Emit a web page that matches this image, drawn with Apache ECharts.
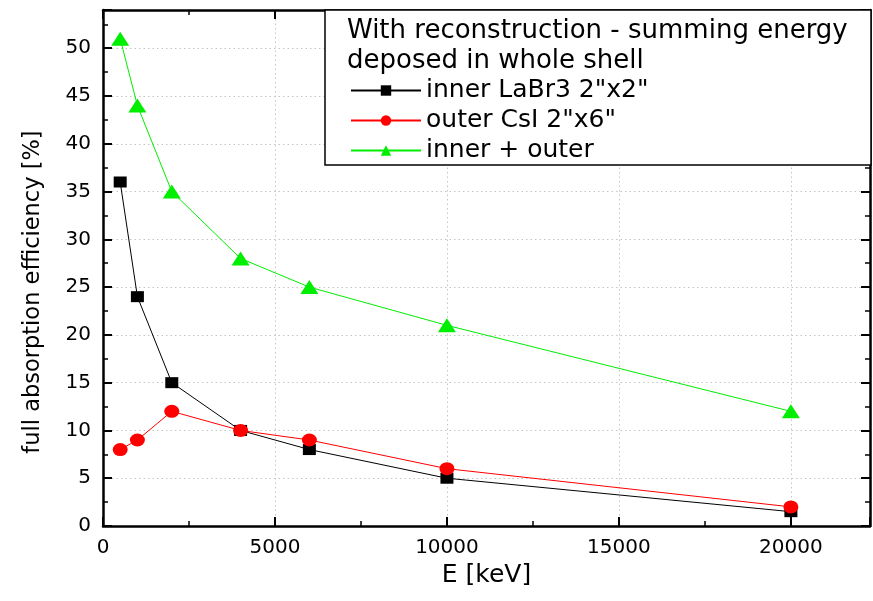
<!DOCTYPE html>
<html>
<head>
<meta charset="utf-8">
<script src="https://cdn.jsdelivr.net/npm/echarts@6/dist/echarts.min.js"></script>
<style>
  html, body { margin: 0; padding: 0; background: #fff; }
  #chart { width: 873px; height: 601px; }
</style>
</head>
<body>
<div id="chart"></div>
<script>
// energies in keV
const energies = [500, 1000, 2000, 4000, 6000, 10000, 20000]
// full absorption efficiency [%]
const innerLaBr3 = [36, 24, 15, 10, 8, 5, 1.5]
const outerCsI = [8, 9, 12, 10, 9, 6, 2]
const innerPlusOuter = [51, 44, 35, 28, 25, 21, 12]

const seriesNames = ['inner LaBr3 2"x2"', 'outer CsI 2"x6"', 'inner + outer']
const legendTitle = ['With reconstruction - summing energy', 'deposed in whole shell']

const font = '"DejaVu Sans", sans-serif'
const xMax = 22300
const yMax = 54

function pairs(ys) {
    return energies.map((e, i) => [e, ys[i]])
}

// only label the round ticks, not the axis end
function onMultiple(step) {
    return v => (Math.abs(v / step - Math.round(v / step)) < 1e-6 ? String(v) : '')
}

let chart = echarts.init(document.getElementById('chart'))

let axisLine = { show: true, onZero: false, lineStyle: { color: '#000', width: 2.5 } }
let tick = { show: true, inside: true, length: 9, lineStyle: { color: '#000', width: 2 } }
let minor = { show: true, splitNumber: 2, length: 5, lineStyle: { color: '#000', width: 1.5 } }
let grid = { show: true, lineStyle: { color: '#c4c4c4', type: [1.5, 3], width: 1 } }

let option = {
    animation: false,
    backgroundColor: '#fff',
    grid: { left: 103, right: 2, top: 10, bottom: 75 },
    graphic: [
        {
            type: 'rect',
            shape: { x: 325, y: 10, width: 546, height: 155 },
            style: { fill: '#fff', stroke: '#000', lineWidth: 1.5 },
            z: 50,
        },
        {
            type: 'text',
            left: 347, top: 16,
            style: { text: legendTitle.join('\n'), font: '26px ' + font, fill: '#000', lineHeight: 30 },
            z: 51,
        },
    ],
    legend: {
        data: seriesNames,
        orient: 'vertical',
        left: 345, top: 73,
        itemWidth: 70, itemHeight: 13, itemGap: 5,
        textStyle: { fontFamily: font, fontSize: 25, color: '#000' },
        z: 60,
    },
    xAxis: [
        {
            type: 'value', min: 0, max: xMax, interval: 5000,
            name: 'E [keV]', nameLocation: 'middle', nameGap: 30,
            nameTextStyle: { fontFamily: font, fontSize: 25, color: '#000' },
            axisLine, axisTick: tick, minorTick: minor,
            axisLabel: { fontFamily: font, fontSize: 20, color: '#000', margin: 12, formatter: onMultiple(5000) },
            splitLine: grid,
        },
        {
            type: 'value', position: 'top', min: 0, max: xMax, interval: 5000,
            axisLine, axisTick: tick, minorTick: minor,
            axisLabel: { show: false }, splitLine: { show: false },
        },
    ],
    yAxis: [
        {
            type: 'value', min: 0, max: yMax, interval: 5,
            name: 'full absorption efficiency [%]', nameLocation: 'middle', nameGap: 58,
            nameTextStyle: { fontFamily: font, fontSize: 22.5, color: '#000', padding: [0, 48, 0, 0] },
            axisLine, axisTick: tick, minorTick: minor,
            axisLabel: { fontFamily: font, fontSize: 20, color: '#000', margin: 12, formatter: onMultiple(5) },
            splitLine: grid,
        },
        {
            type: 'value', position: 'right', min: 0, max: yMax, interval: 5,
            axisLine, axisTick: tick, minorTick: minor,
            axisLabel: { show: false }, splitLine: { show: false },
        },
    ],
    series: [
        {
            name: seriesNames[0], type: 'line', data: pairs(innerLaBr3),
            symbol: 'rect', symbolSize: [13, 11],
            itemStyle: { color: '#000' }, lineStyle: { color: '#000', width: 1 },
        },
        {
            name: seriesNames[1], type: 'line', data: pairs(outerCsI),
            symbol: 'circle', symbolSize: [15, 13],
            itemStyle: { color: '#ff0000' }, lineStyle: { color: '#ff0000', width: 1 },
        },
        {
            name: seriesNames[2], type: 'line', data: pairs(innerPlusOuter),
            symbol: 'triangle', symbolSize: [18, 14],
            itemStyle: { color: '#00ee00' }, lineStyle: { color: '#00ee00', width: 1 },
        },
    ],
}

chart.setOption(option)
window.addEventListener('resize', () => {
    chart.resize()
})
</script>
</body>
</html>
